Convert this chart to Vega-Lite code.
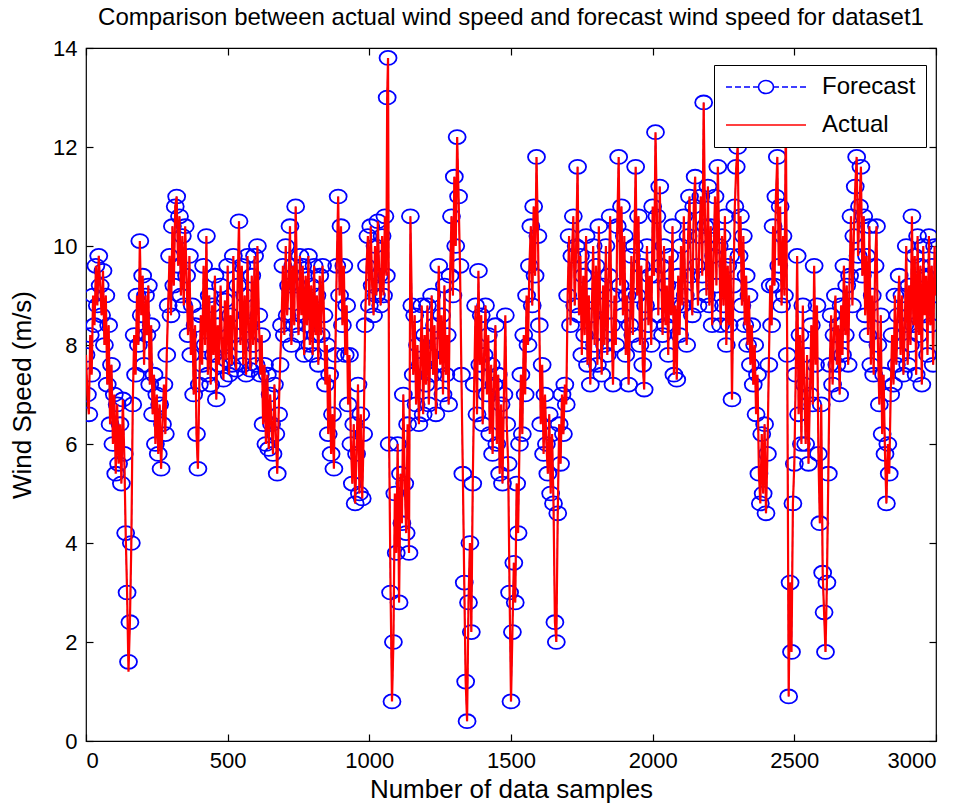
{
  "$schema": "https://vega.github.io/schema/vega-lite/v6.json",
  "width": 850,
  "height": 693,
  "autosize": {"type": "none"},
  "padding": {"left": 86, "top": 48, "right": 35, "bottom": 70},
  "background": "white",
  "title": {"text": "Comparison between actual wind speed and forecast wind speed for dataset1", "font": "Liberation Sans", "fontSize": 24, "fontWeight": "normal", "color": "black", "offset": 7, "anchor": "middle"},
  "config": {
    "view": {"stroke": "black", "strokeWidth": 1.2},
    "axis": {"grid": false, "domain": false, "labelFont": "Liberation Sans", "labelFontSize": 22, "labelColor": "black", "titleFont": "Liberation Sans", "titleFontSize": 26, "titleFontWeight": "normal", "titleColor": "black", "tickColor": "black", "tickSize": -7, "tickWidth": 1.2, "labelPadding": 16, "format": "d"}
  },
  "data": {"values": [
{"n":0,"f":7.8,"a":7.8},{"n":5,"f":7.0,"a":7.0},{"n":10,"f":6.6,"a":6.6},{"n":15,"f":8.2,"a":8.2},{"n":20,"f":7.4,"a":7.4},{"n":25,"f":9.0,"a":9.0},{"n":30,"f":8.4,"a":8.4},{"n":35,"f":9.6,"a":9.6},{"n":40,"f":8.8,"a":8.8},{"n":45,"f":9.8,"a":9.8},{"n":50,"f":9.2,"a":9.2},{"n":55,"f":8.6,"a":8.6},{"n":60,"f":9.5,"a":9.5},
{"n":65,"f":8.0,"a":8.0},{"n":70,"f":9.0,"a":9.0},{"n":75,"f":7.2,"a":7.2},{"n":80,"f":8.4,"a":8.4},{"n":85,"f":6.4,"a":6.4},{"n":90,"f":7.6,"a":7.6},{"n":95,"f":6.0,"a":6.0},{"n":100,"f":7.0,"a":7.0},{"n":105,"f":5.4,"a":5.4},{"n":110,"f":6.8,"a":6.8},{"n":115,"f":5.6,"a":5.6},{"n":120,"f":6.4,"a":6.4},{"n":125,"f":5.2,"a":5.2},{"n":130,"f":6.9,"a":6.9},{"n":135,"f":5.8,"a":5.8},
{"n":140,"f":4.2,"a":4.2},{"n":145,"f":3.0,"a":3.0},{"n":150,"f":1.6,"a":1.4},{"n":155,"f":2.4,"a":2.4},{"n":160,"f":4.0,"a":4.0},{"n":165,"f":6.8,"a":6.8},
{"n":170,"f":8.2,"a":8.2},{"n":175,"f":7.4,"a":7.4},{"n":180,"f":9.0,"a":9.0},{"n":185,"f":8.0,"a":8.0},{"n":190,"f":10.1,"a":10.1},{"n":195,"f":8.6,"a":8.6},{"n":200,"f":9.4,"a":9.4},{"n":205,"f":7.6,"a":7.6},{"n":210,"f":9.0,"a":9.0},{"n":215,"f":8.2,"a":8.2},{"n":220,"f":9.2,"a":9.2},{"n":225,"f":7.2,"a":7.2},{"n":230,"f":8.4,"a":8.4},
{"n":235,"f":6.6,"a":6.6},{"n":240,"f":7.4,"a":7.4},{"n":245,"f":6.0,"a":6.0},{"n":250,"f":7.0,"a":7.0},{"n":255,"f":5.8,"a":5.8},{"n":260,"f":6.8,"a":6.8},{"n":265,"f":5.5,"a":5.5},{"n":270,"f":6.4,"a":6.4},{"n":275,"f":7.2,"a":7.2},{"n":280,"f":6.2,"a":6.2},{"n":285,"f":7.8,"a":7.8},
{"n":290,"f":8.8,"a":8.8},{"n":295,"f":9.8,"a":9.8},{"n":300,"f":8.6,"a":8.6},{"n":305,"f":10.4,"a":10.4},{"n":310,"f":9.2,"a":9.2},{"n":315,"f":10.8,"a":10.8},{"n":320,"f":11.0,"a":11.0},{"n":325,"f":9.6,"a":9.6},{"n":330,"f":10.6,"a":10.6},{"n":335,"f":9.0,"a":9.0},{"n":340,"f":10.2,"a":10.2},{"n":345,"f":8.8,"a":8.8},{"n":350,"f":10.4,"a":10.4},{"n":355,"f":9.4,"a":9.4},{"n":360,"f":8.2,"a":8.2},{"n":365,"f":9.8,"a":9.8},{"n":370,"f":7.8,"a":7.8},{"n":375,"f":8.8,"a":8.8},
{"n":380,"f":7.0,"a":7.0},{"n":385,"f":8.4,"a":8.4},{"n":390,"f":6.2,"a":6.2},{"n":395,"f":5.5,"a":5.5},{"n":400,"f":7.2,"a":7.2},
{"n":405,"f":8.6,"a":8.6},{"n":410,"f":7.6,"a":7.6},{"n":415,"f":9.6,"a":9.6},{"n":420,"f":8.0,"a":8.0},{"n":425,"f":10.2,"a":10.2},{"n":430,"f":7.4,"a":7.4},{"n":435,"f":9.0,"a":9.0},{"n":440,"f":7.2,"a":7.2},{"n":445,"f":8.8,"a":8.8},{"n":450,"f":7.8,"a":7.8},{"n":455,"f":9.4,"a":9.4},{"n":460,"f":6.9,"a":6.9},{"n":465,"f":8.4,"a":8.4},{"n":470,"f":7.6,"a":7.6},{"n":475,"f":9.2,"a":9.2},{"n":480,"f":8.0,"a":8.0},{"n":485,"f":7.3,"a":7.3},{"n":490,"f":8.9,"a":8.9},{"n":495,"f":7.7,"a":7.7},{"n":500,"f":9.6,"a":9.6},
{"n":505,"f":7.4,"a":7.4},{"n":510,"f":8.6,"a":8.6},{"n":515,"f":7.6,"a":7.6},{"n":520,"f":9.8,"a":9.8},{"n":525,"f":8.2,"a":8.2},{"n":530,"f":7.5,"a":7.5},{"n":535,"f":9.2,"a":9.2},{"n":540,"f":10.5,"a":10.5},{"n":545,"f":8.0,"a":8.0},{"n":550,"f":9.6,"a":9.6},{"n":555,"f":7.6,"a":7.6},{"n":560,"f":9.0,"a":9.0},{"n":565,"f":7.4,"a":7.4},{"n":570,"f":9.8,"a":9.8},{"n":575,"f":8.4,"a":8.4},{"n":580,"f":7.5,"a":7.5},{"n":585,"f":9.4,"a":9.4},{"n":590,"f":8.0,"a":8.0},{"n":595,"f":9.8,"a":9.8},{"n":600,"f":7.6,"a":7.6},{"n":605,"f":10.0,"a":10.0},{"n":610,"f":8.6,"a":8.6},
{"n":615,"f":7.4,"a":7.4},{"n":620,"f":8.2,"a":8.2},{"n":625,"f":6.4,"a":6.4},{"n":630,"f":7.6,"a":7.6},{"n":635,"f":6.0,"a":6.0},{"n":640,"f":7.4,"a":7.4},{"n":645,"f":5.9,"a":5.9},{"n":650,"f":7.0,"a":7.0},{"n":655,"f":6.4,"a":6.4},{"n":660,"f":5.8,"a":5.8},{"n":665,"f":7.2,"a":7.2},{"n":670,"f":6.2,"a":6.2},{"n":675,"f":5.4,"a":5.4},{"n":680,"f":6.6,"a":6.6},{"n":685,"f":7.6,"a":7.6},
{"n":690,"f":8.4,"a":8.4},{"n":695,"f":9.6,"a":9.6},{"n":700,"f":8.2,"a":8.2},{"n":705,"f":10.0,"a":10.0},{"n":710,"f":8.6,"a":8.6},{"n":715,"f":9.2,"a":9.2},{"n":720,"f":10.4,"a":10.4},{"n":725,"f":8.0,"a":8.0},{"n":730,"f":9.6,"a":9.6},{"n":735,"f":8.4,"a":8.4},{"n":740,"f":10.8,"a":10.8},{"n":745,"f":9.2,"a":9.2},{"n":750,"f":8.2,"a":8.2},{"n":755,"f":9.8,"a":9.8},{"n":760,"f":8.6,"a":8.6},{"n":765,"f":9.6,"a":9.6},{"n":770,"f":7.8,"a":7.8},{"n":775,"f":9.4,"a":9.4},{"n":780,"f":8.4,"a":8.4},{"n":785,"f":9.8,"a":9.8},{"n":790,"f":8.0,"a":8.0},{"n":795,"f":9.2,"a":9.2},{"n":800,"f":7.8,"a":7.8},{"n":805,"f":9.6,"a":9.6},{"n":810,"f":8.2,"a":8.2},{"n":815,"f":9.0,"a":9.0},{"n":820,"f":7.6,"a":7.6},{"n":825,"f":9.4,"a":9.4},{"n":830,"f":8.2,"a":8.2},{"n":835,"f":9.6,"a":9.6},{"n":840,"f":8.6,"a":8.6},
{"n":845,"f":7.2,"a":7.2},{"n":850,"f":8.0,"a":8.0},{"n":855,"f":6.2,"a":6.2},{"n":860,"f":7.4,"a":7.4},{"n":865,"f":5.8,"a":5.8},{"n":870,"f":6.6,"a":6.6},{"n":875,"f":5.5,"a":5.5},{"n":880,"f":7.8,"a":7.8},{"n":885,"f":9.6,"a":9.6},{"n":890,"f":11.0,"a":11.0},{"n":895,"f":9.0,"a":9.0},{"n":900,"f":10.4,"a":10.4},
{"n":905,"f":8.4,"a":8.4},{"n":910,"f":9.6,"a":9.6},{"n":915,"f":7.8,"a":7.8},{"n":920,"f":8.8,"a":8.8},{"n":925,"f":6.8,"a":6.8},{"n":930,"f":7.8,"a":7.8},{"n":935,"f":6.0,"a":6.0},{"n":940,"f":5.2,"a":5.2},{"n":945,"f":6.4,"a":6.4},{"n":950,"f":4.8,"a":4.8},{"n":955,"f":5.8,"a":5.8},{"n":960,"f":7.2,"a":7.2},{"n":965,"f":5.0,"a":5.0},{"n":970,"f":6.6,"a":6.6},{"n":975,"f":4.9,"a":4.9},{"n":980,"f":6.2,"a":6.2},{"n":985,"f":8.4,"a":8.4},
{"n":990,"f":9.6,"a":9.6},{"n":995,"f":10.2,"a":10.2},{"n":1000,"f":8.8,"a":8.8},{"n":1005,"f":10.4,"a":10.4},{"n":1010,"f":9.2,"a":9.2},{"n":1015,"f":8.6,"a":8.6},{"n":1020,"f":10.0,"a":10.0},{"n":1025,"f":9.0,"a":9.0},{"n":1030,"f":10.5,"a":10.5},{"n":1035,"f":9.4,"a":9.4},{"n":1040,"f":8.8,"a":8.8},{"n":1045,"f":10.2,"a":10.2},{"n":1050,"f":9.0,"a":9.0},{"n":1055,"f":10.6,"a":10.6},{"n":1060,"f":9.4,"a":9.4},{"n":1063,"f":13.0,"a":13.0},{"n":1066,"f":13.8,"a":13.8},
{"n":1070,"f":6.0,"a":6.0},{"n":1075,"f":3.0,"a":3.0},{"n":1080,"f":0.8,"a":0.8},{"n":1085,"f":2.0,"a":2.0},{"n":1090,"f":5.0,"a":5.0},{"n":1095,"f":3.8,"a":3.8},{"n":1100,"f":6.0,"a":6.0},{"n":1105,"f":2.8,"a":2.8},{"n":1110,"f":5.4,"a":5.4},{"n":1115,"f":4.4,"a":4.4},{"n":1120,"f":7.0,"a":7.0},{"n":1125,"f":5.2,"a":5.2},{"n":1130,"f":4.2,"a":4.2},{"n":1135,"f":6.4,"a":6.4},{"n":1140,"f":3.8,"a":3.8},{"n":1145,"f":10.6,"a":10.6},
{"n":1150,"f":8.8,"a":8.8},{"n":1155,"f":7.4,"a":7.4},{"n":1160,"f":8.6,"a":8.6},{"n":1165,"f":6.8,"a":6.8},{"n":1170,"f":8.0,"a":8.0},{"n":1175,"f":6.4,"a":6.4},{"n":1180,"f":7.6,"a":7.6},{"n":1185,"f":8.8,"a":8.8},{"n":1190,"f":6.6,"a":6.6},{"n":1195,"f":8.2,"a":8.2},{"n":1200,"f":7.2,"a":7.2},{"n":1205,"f":8.8,"a":8.8},{"n":1210,"f":6.8,"a":6.8},{"n":1215,"f":7.8,"a":7.8},{"n":1220,"f":9.0,"a":9.0},{"n":1225,"f":7.4,"a":7.4},{"n":1230,"f":8.4,"a":8.4},{"n":1235,"f":6.6,"a":6.6},{"n":1240,"f":8.0,"a":8.0},{"n":1245,"f":9.6,"a":9.6},{"n":1250,"f":7.6,"a":7.6},{"n":1255,"f":8.6,"a":8.6},{"n":1260,"f":7.0,"a":7.0},{"n":1265,"f":9.2,"a":9.2},{"n":1270,"f":7.4,"a":7.4},{"n":1275,"f":8.2,"a":8.2},{"n":1280,"f":6.8,"a":6.8},
{"n":1285,"f":9.4,"a":9.4},{"n":1290,"f":10.6,"a":10.6},{"n":1295,"f":9.0,"a":9.0},{"n":1300,"f":11.4,"a":11.4},{"n":1305,"f":10.0,"a":10.0},{"n":1310,"f":12.2,"a":12.2},{"n":1315,"f":11.0,"a":11.0},{"n":1320,"f":9.6,"a":9.6},{"n":1325,"f":7.4,"a":7.4},
{"n":1330,"f":5.4,"a":5.4},{"n":1335,"f":3.2,"a":3.2},{"n":1340,"f":1.2,"a":1.2},{"n":1345,"f":0.4,"a":0.4},{"n":1350,"f":2.8,"a":2.8},{"n":1355,"f":4.0,"a":4.0},{"n":1360,"f":2.2,"a":2.2},{"n":1365,"f":5.2,"a":5.2},
{"n":1370,"f":7.2,"a":7.2},{"n":1375,"f":8.8,"a":8.8},{"n":1380,"f":6.6,"a":6.6},{"n":1385,"f":9.5,"a":9.5},{"n":1390,"f":7.6,"a":7.6},{"n":1395,"f":8.6,"a":8.6},{"n":1400,"f":6.4,"a":6.4},{"n":1405,"f":7.8,"a":7.8},{"n":1410,"f":8.8,"a":8.8},{"n":1415,"f":7.0,"a":7.0},{"n":1420,"f":8.2,"a":8.2},{"n":1425,"f":6.2,"a":6.2},{"n":1430,"f":7.6,"a":7.6},{"n":1435,"f":5.8,"a":5.8},{"n":1440,"f":7.2,"a":7.2},{"n":1445,"f":8.4,"a":8.4},{"n":1450,"f":6.0,"a":6.0},{"n":1455,"f":7.4,"a":7.4},{"n":1460,"f":5.4,"a":5.4},{"n":1465,"f":6.8,"a":6.8},{"n":1470,"f":5.2,"a":5.2},{"n":1475,"f":7.0,"a":7.0},{"n":1480,"f":8.6,"a":8.6},{"n":1485,"f":6.4,"a":6.4},{"n":1490,"f":5.6,"a":5.6},
{"n":1495,"f":3.0,"a":3.0},{"n":1500,"f":0.8,"a":0.8},{"n":1505,"f":2.2,"a":2.2},{"n":1510,"f":3.6,"a":3.6},{"n":1515,"f":2.8,"a":2.8},{"n":1520,"f":5.2,"a":5.2},{"n":1525,"f":4.2,"a":4.2},
{"n":1530,"f":6.0,"a":6.0},{"n":1535,"f":7.4,"a":7.4},{"n":1540,"f":6.2,"a":6.2},{"n":1545,"f":8.2,"a":8.2},{"n":1550,"f":7.0,"a":7.0},{"n":1555,"f":9.0,"a":9.0},{"n":1560,"f":8.0,"a":8.0},{"n":1565,"f":9.6,"a":9.6},{"n":1570,"f":10.4,"a":10.4},{"n":1575,"f":8.8,"a":8.8},{"n":1580,"f":10.8,"a":10.8},{"n":1585,"f":9.4,"a":9.4},{"n":1590,"f":11.8,"a":11.8},{"n":1595,"f":10.2,"a":10.2},{"n":1600,"f":8.4,"a":8.4},
{"n":1605,"f":6.4,"a":6.4},{"n":1610,"f":7.6,"a":7.6},{"n":1615,"f":5.8,"a":5.8},{"n":1620,"f":7.0,"a":7.0},{"n":1625,"f":6.0,"a":6.0},{"n":1630,"f":5.4,"a":5.4},{"n":1635,"f":6.6,"a":6.6},{"n":1640,"f":5.0,"a":5.0},{"n":1645,"f":6.2,"a":6.2},{"n":1650,"f":4.8,"a":4.8},{"n":1655,"f":2.4,"a":2.4},{"n":1660,"f":2.0,"a":2.0},{"n":1665,"f":4.6,"a":4.6},{"n":1670,"f":6.4,"a":6.4},{"n":1675,"f":5.6,"a":5.6},{"n":1680,"f":7.0,"a":7.0},{"n":1685,"f":6.2,"a":6.2},{"n":1690,"f":7.2,"a":7.2},{"n":1695,"f":6.8,"a":6.8},
{"n":1700,"f":9.0,"a":9.0},{"n":1705,"f":10.2,"a":10.2},{"n":1710,"f":8.4,"a":8.4},{"n":1715,"f":9.8,"a":9.8},{"n":1720,"f":10.6,"a":10.6},{"n":1725,"f":8.8,"a":8.8},{"n":1730,"f":10.0,"a":10.0},{"n":1735,"f":11.6,"a":11.6},{"n":1740,"f":8.6,"a":8.6},
{"n":1745,"f":9.8,"a":9.8},{"n":1750,"f":7.8,"a":7.8},{"n":1755,"f":9.4,"a":9.4},{"n":1760,"f":8.2,"a":8.2},{"n":1765,"f":10.2,"a":10.2},{"n":1770,"f":7.6,"a":7.6},{"n":1775,"f":9.0,"a":9.0},{"n":1780,"f":7.2,"a":7.2},{"n":1785,"f":8.6,"a":8.6},{"n":1790,"f":10.0,"a":10.0},{"n":1795,"f":8.0,"a":8.0},{"n":1800,"f":9.6,"a":9.6},{"n":1805,"f":7.6,"a":7.6},{"n":1810,"f":10.4,"a":10.4},{"n":1815,"f":8.8,"a":8.8},{"n":1820,"f":7.4,"a":7.4},{"n":1825,"f":9.2,"a":9.2},{"n":1830,"f":8.0,"a":8.0},{"n":1835,"f":10.0,"a":10.0},{"n":1840,"f":7.8,"a":7.8},{"n":1845,"f":9.4,"a":9.4},{"n":1850,"f":10.6,"a":10.6},{"n":1855,"f":8.4,"a":8.4},{"n":1860,"f":7.2,"a":7.2},{"n":1865,"f":9.0,"a":9.0},{"n":1870,"f":8.0,"a":8.0},{"n":1875,"f":10.4,"a":10.4},{"n":1880,"f":11.8,"a":11.8},{"n":1885,"f":9.2,"a":9.2},{"n":1890,"f":10.8,"a":10.8},{"n":1895,"f":8.6,"a":8.6},{"n":1900,"f":10.2,"a":10.2},{"n":1905,"f":7.8,"a":7.8},{"n":1910,"f":9.0,"a":9.0},{"n":1915,"f":7.2,"a":7.2},{"n":1920,"f":8.4,"a":8.4},{"n":1925,"f":9.8,"a":9.8},{"n":1930,"f":8.2,"a":8.2},{"n":1935,"f":10.0,"a":10.0},{"n":1940,"f":11.6,"a":11.6},{"n":1945,"f":9.0,"a":9.0},{"n":1950,"f":10.6,"a":10.6},{"n":1955,"f":8.0,"a":8.0},{"n":1960,"f":9.6,"a":9.6},{"n":1965,"f":7.6,"a":7.6},{"n":1970,"f":7.1,"a":7.1},{"n":1975,"f":8.8,"a":8.8},{"n":1980,"f":10.0,"a":10.0},{"n":1985,"f":8.4,"a":8.4},{"n":1990,"f":9.4,"a":9.4},{"n":1995,"f":8.0,"a":8.0},
{"n":2000,"f":10.8,"a":10.8},{"n":2005,"f":9.4,"a":9.4},{"n":2010,"f":12.3,"a":12.3},{"n":2015,"f":10.6,"a":10.6},{"n":2020,"f":8.6,"a":8.6},{"n":2025,"f":11.2,"a":11.2},{"n":2030,"f":9.6,"a":9.6},{"n":2035,"f":8.2,"a":8.2},{"n":2040,"f":10.0,"a":10.0},{"n":2045,"f":8.4,"a":8.4},{"n":2050,"f":9.2,"a":9.2},{"n":2055,"f":7.8,"a":7.8},{"n":2060,"f":9.8,"a":9.8},{"n":2065,"f":8.6,"a":8.6},{"n":2070,"f":10.4,"a":10.4},{"n":2075,"f":7.4,"a":7.4},{"n":2080,"f":8.8,"a":8.8},{"n":2085,"f":7.3,"a":7.3},{"n":2090,"f":9.4,"a":9.4},{"n":2095,"f":8.2,"a":8.2},{"n":2100,"f":10.0,"a":10.0},{"n":2105,"f":8.8,"a":8.8},{"n":2110,"f":10.6,"a":10.6},{"n":2115,"f":9.0,"a":9.0},{"n":2120,"f":8.0,"a":8.0},{"n":2125,"f":10.2,"a":10.2},{"n":2130,"f":11.0,"a":11.0},{"n":2135,"f":9.4,"a":9.4},{"n":2140,"f":8.6,"a":8.6},{"n":2145,"f":10.8,"a":10.8},{"n":2150,"f":11.4,"a":11.4},{"n":2155,"f":9.6,"a":9.6},{"n":2160,"f":8.8,"a":8.8},{"n":2165,"f":10.2,"a":10.2},{"n":2170,"f":11.0,"a":11.0},{"n":2175,"f":9.4,"a":9.4},{"n":2180,"f":12.9,"a":12.9},{"n":2185,"f":10.4,"a":10.4},{"n":2190,"f":9.0,"a":9.0},{"n":2195,"f":11.2,"a":11.2},{"n":2200,"f":8.8,"a":8.8},{"n":2205,"f":10.4,"a":10.4},{"n":2210,"f":8.4,"a":8.4},{"n":2215,"f":9.8,"a":9.8},{"n":2220,"f":11.0,"a":11.0},{"n":2225,"f":9.2,"a":9.2},{"n":2230,"f":11.6,"a":11.6},{"n":2235,"f":10.0,"a":10.0},{"n":2240,"f":8.4,"a":8.4},{"n":2245,"f":10.2,"a":10.2},{"n":2250,"f":8.8,"a":8.8},{"n":2255,"f":10.6,"a":10.6},{"n":2260,"f":8.0,"a":8.0},{"n":2265,"f":9.6,"a":9.6},{"n":2270,"f":8.4,"a":8.4},{"n":2275,"f":9.8,"a":9.8},{"n":2280,"f":6.9,"a":6.9},{"n":2285,"f":9.2,"a":9.2},{"n":2290,"f":10.8,"a":10.8},{"n":2295,"f":11.6,"a":11.6},{"n":2300,"f":12.0,"a":12.0},
{"n":2305,"f":9.8,"a":9.8},{"n":2310,"f":10.6,"a":10.6},{"n":2315,"f":8.8,"a":8.8},{"n":2320,"f":10.2,"a":10.2},{"n":2325,"f":8.4,"a":8.4},{"n":2330,"f":9.4,"a":9.4},{"n":2335,"f":8.0,"a":8.0},{"n":2340,"f":9.0,"a":9.0},{"n":2345,"f":7.6,"a":7.6},{"n":2350,"f":8.4,"a":8.4},{"n":2355,"f":7.2,"a":7.2},{"n":2360,"f":8.0,"a":8.0},{"n":2365,"f":6.6,"a":6.6},{"n":2370,"f":7.4,"a":7.4},
{"n":2375,"f":5.4,"a":5.4},{"n":2380,"f":4.8,"a":4.8},{"n":2385,"f":6.2,"a":6.2},{"n":2390,"f":5.0,"a":5.0},{"n":2395,"f":6.4,"a":6.4},{"n":2400,"f":4.6,"a":4.6},{"n":2405,"f":5.8,"a":5.8},
{"n":2410,"f":7.6,"a":7.6},{"n":2415,"f":9.2,"a":9.2},{"n":2420,"f":8.4,"a":8.4},{"n":2425,"f":10.4,"a":10.4},{"n":2430,"f":9.2,"a":9.2},{"n":2435,"f":11.0,"a":11.0},{"n":2440,"f":11.8,"a":11.8},{"n":2445,"f":9.6,"a":9.6},{"n":2450,"f":10.8,"a":10.8},{"n":2455,"f":8.8,"a":8.8},{"n":2460,"f":10.2,"a":10.2},{"n":2465,"f":9.0,"a":9.0},{"n":2470,"f":12.6,"a":12.6},{"n":2475,"f":7.8,"a":7.8},
{"n":2480,"f":0.9,"a":0.9},{"n":2485,"f":3.2,"a":3.2},{"n":2490,"f":1.8,"a":1.8},{"n":2495,"f":4.8,"a":4.8},{"n":2500,"f":5.6,"a":5.6},{"n":2505,"f":7.4,"a":7.4},{"n":2510,"f":9.8,"a":9.8},{"n":2515,"f":6.6,"a":6.6},{"n":2520,"f":8.2,"a":8.2},{"n":2525,"f":6.0,"a":6.0},{"n":2530,"f":8.8,"a":8.8},{"n":2535,"f":7.2,"a":7.2},{"n":2540,"f":6.0,"a":6.0},{"n":2545,"f":7.8,"a":7.8},{"n":2550,"f":5.6,"a":5.6},{"n":2555,"f":7.0,"a":7.0},{"n":2560,"f":8.4,"a":8.4},{"n":2565,"f":6.8,"a":6.8},{"n":2570,"f":9.6,"a":9.6},{"n":2575,"f":7.6,"a":7.6},{"n":2580,"f":8.8,"a":8.8},{"n":2585,"f":5.8,"a":5.8},{"n":2590,"f":4.4,"a":4.4},{"n":2595,"f":6.8,"a":6.8},{"n":2600,"f":3.4,"a":3.4},{"n":2605,"f":2.6,"a":2.6},{"n":2610,"f":1.8,"a":1.8},{"n":2615,"f":3.2,"a":3.2},{"n":2620,"f":5.4,"a":5.4},
{"n":2625,"f":7.6,"a":7.6},{"n":2630,"f":8.6,"a":8.6},{"n":2635,"f":7.2,"a":7.2},{"n":2640,"f":8.2,"a":8.2},{"n":2645,"f":9.0,"a":9.0},{"n":2650,"f":7.6,"a":7.6},{"n":2655,"f":8.4,"a":8.4},{"n":2660,"f":7.0,"a":7.0},{"n":2665,"f":8.8,"a":8.8},{"n":2670,"f":7.8,"a":7.8},{"n":2675,"f":9.6,"a":9.6},{"n":2680,"f":8.2,"a":8.2},{"n":2685,"f":9.2,"a":9.2},{"n":2690,"f":7.6,"a":7.6},
{"n":2695,"f":9.4,"a":9.4},{"n":2700,"f":10.6,"a":10.6},{"n":2705,"f":8.8,"a":8.8},{"n":2710,"f":10.2,"a":10.2},{"n":2715,"f":11.2,"a":11.2},{"n":2720,"f":11.8,"a":11.8},{"n":2725,"f":9.8,"a":9.8},{"n":2730,"f":10.8,"a":10.8},{"n":2735,"f":11.6,"a":11.6},{"n":2740,"f":9.4,"a":9.4},{"n":2745,"f":10.6,"a":10.6},{"n":2750,"f":8.6,"a":8.6},{"n":2755,"f":9.8,"a":9.8},{"n":2760,"f":8.2,"a":8.2},{"n":2765,"f":10.4,"a":10.4},{"n":2770,"f":7.6,"a":7.6},{"n":2775,"f":9.0,"a":9.0},{"n":2780,"f":7.4,"a":7.4},
{"n":2785,"f":9.6,"a":9.6},{"n":2790,"f":10.4,"a":10.4},{"n":2795,"f":8.0,"a":8.0},{"n":2800,"f":6.8,"a":6.8},{"n":2805,"f":8.6,"a":8.6},{"n":2810,"f":6.2,"a":6.2},{"n":2815,"f":7.4,"a":7.4},{"n":2820,"f":5.8,"a":5.8},{"n":2825,"f":4.8,"a":4.8},{"n":2830,"f":6.0,"a":6.0},{"n":2835,"f":5.4,"a":5.4},{"n":2840,"f":7.0,"a":7.0},
{"n":2845,"f":8.2,"a":8.2},{"n":2850,"f":7.2,"a":7.2},{"n":2855,"f":9.0,"a":9.0},{"n":2860,"f":7.6,"a":7.6},{"n":2865,"f":8.6,"a":8.6},{"n":2870,"f":9.4,"a":9.4},{"n":2875,"f":7.8,"a":7.8},{"n":2880,"f":9.0,"a":9.0},{"n":2885,"f":7.4,"a":7.4},{"n":2890,"f":8.4,"a":8.4},{"n":2895,"f":10.0,"a":10.0},{"n":2900,"f":7.6,"a":7.6},{"n":2905,"f":9.2,"a":9.2},{"n":2910,"f":8.0,"a":8.0},{"n":2915,"f":10.6,"a":10.6},{"n":2920,"f":8.4,"a":8.4},{"n":2925,"f":9.8,"a":9.8},{"n":2930,"f":7.4,"a":7.4},{"n":2935,"f":10.2,"a":10.2},{"n":2940,"f":8.2,"a":8.2},{"n":2945,"f":9.6,"a":9.6},{"n":2950,"f":7.2,"a":7.2},{"n":2955,"f":10.0,"a":10.0},{"n":2960,"f":8.6,"a":8.6},{"n":2965,"f":9.4,"a":9.4},{"n":2970,"f":7.8,"a":7.8},{"n":2975,"f":10.2,"a":10.2},{"n":2980,"f":8.4,"a":8.4},{"n":2985,"f":9.6,"a":9.6},{"n":2990,"f":7.6,"a":7.6},{"n":2995,"f":10.0,"a":10.0},{"n":3000,"f":9.0,"a":9.0}
  ]},
  "layer": [
    {
      "mark": {"type": "line", "stroke": "#0000ff", "strokeWidth": 1.2, "strokeDash": [6, 4], "clip": true,
               "point": {"filled": false, "fill": null, "stroke": "#0000ff", "size": 289, "strokeWidth": 1.8, "shape": "M1,0A1,0.82 0 1,1 -1,0A1,0.82 0 1,1 1,0"}},
      "encoding": {
        "x": {"field": "n", "type": "quantitative", "scale": {"domain": [0, 3000], "nice": false},
              "axis": {"orient": "bottom", "values": [0, 500, 1000, 1500, 2000, 2500, 3000], "title": "Number of data samples", "titlePadding": 5}},
        "y": {"field": "f", "type": "quantitative", "scale": {"domain": [0, 14], "nice": false},
              "axis": {"orient": "left", "values": [0, 2, 4, 6, 8, 10, 12, 14], "title": "Wind Speed (m/s)", "titlePadding": 17}},
        "color": {"datum": "Forecast", "type": "nominal",
                  "scale": {"domain": ["Forecast", "Actual"], "range": ["#0000ff", "#ff0000"]},
                  "legend": {"title": null, "orient": "none", "legendX": 628, "legendY": 17, "direction": "vertical",
                             "fillColor": "white", "strokeColor": "black", "padding": 10, "cornerRadius": 0,
                             "labelFont": "Liberation Sans", "labelFontSize": 24, "labelColor": "black",
                             "symbolSize": 400, "symbolOffset": 30, "labelOffset": 44, "rowPadding": 14, "symbolStrokeWidth": 1.6,
                             "encode": {"symbols": {"update": {
                               "shape": [{"test": "datum.value === 'Forecast'", "value": "M-4,0H-3.4M-3.1,0H-2.5M-2.2,0H-1.6M-1.3,0H-0.8M0.8,0H1.3M1.6,0H2.2M2.5,0H3.1M3.4,0H4M0.75,0A0.75,0.65 0 1,1 -0.75,0A0.75,0.65 0 1,1 0.75,0"}, {"value": "M-4,0H4"}],
                               "fill": {"value": "transparent"},
                               "stroke": [{"test": "datum.value === 'Forecast'", "value": "#0000ff"}, {"value": "#ff0000"}]
                             }}}}}
      }
    },
    {
      "mark": {"type": "line", "stroke": "#ff0000", "strokeWidth": 2.2, "clip": true},
      "encoding": {
        "x": {"field": "n", "type": "quantitative", "axis": {"orient": "top", "values": [0, 500, 1000, 1500, 2000, 2500, 3000], "labels": false, "title": null}},
        "y": {"field": "a", "type": "quantitative", "axis": {"orient": "right", "values": [0, 2, 4, 6, 8, 10, 12, 14], "labels": false, "title": null}},
        "color": {"datum": "Actual", "type": "nominal"}
      }
    }
  ],
  "resolve": {"axis": {"x": "independent", "y": "independent"}}
}
